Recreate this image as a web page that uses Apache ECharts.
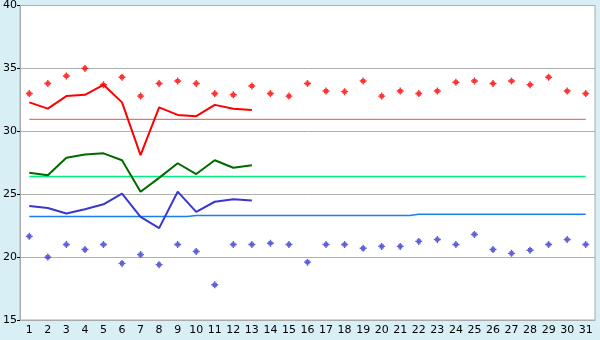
<!DOCTYPE html>
<html>
<head>
<meta charset="utf-8">
<script src="https://cdn.jsdelivr.net/npm/echarts@6/dist/echarts.min.js"></script>
<style>
html,body{margin:0;padding:0;background:#d9eff6;}
#c{width:600px;height:340px;}
</style>
</head>
<body>
<div id="c"></div>
<script>
var days = ['1','2','3','4','5','6','7','8','9','10','11','12','13','14','15','16','17','18','19','20','21','22','23','24','25','26','27','28','29','30','31'];
var yTicks = [15, 20, 25, 30, 35, 40];

var redPoints = [33.0,33.8,34.4,35.0,33.7,34.3,32.8,33.8,34.0,33.8,33.0,32.9,33.6,33.0,32.8,33.8,33.2,33.15,34.0,32.8,33.2,33.0,33.2,33.9,34.0,33.8,34.0,33.7,34.3,33.2,33.0];
var redLine = [32.3,31.8,32.8,32.9,33.7,32.3,28.1,31.9,31.3,31.2,32.1,31.8,31.7];
var redAvg = [30.95,30.95,30.95,30.95,30.95,30.95,30.95,30.95,30.95,30.95,30.95,30.95,30.95,30.95,30.95,30.95,30.95,30.95,30.95,30.95,30.95,30.95,30.95,30.95,30.95,30.95,30.95,30.95,30.95,30.95,30.95];

var greenLine = [26.7,26.5,27.9,28.15,28.25,27.7,25.2,26.3,27.46,26.6,27.7,27.1,27.3];
var greenAvg = [26.4,26.4,26.4,26.4,26.4,26.4,26.4,26.4,26.4,26.4,26.4,26.4,26.4,26.4,26.4,26.4,26.4,26.4,26.4,26.4,26.4,26.4,26.4,26.4,26.4,26.4,26.4,26.4,26.4,26.4,26.4];

var bluePoints = [21.65,20.0,21.0,20.6,21.0,19.5,20.2,19.4,21.0,20.45,17.8,21.0,21.0,21.1,21.0,19.6,21.0,21.0,20.7,20.85,20.85,21.25,21.4,21.0,21.8,20.6,20.3,20.55,21.0,21.4,21.0];
var blueLine = [24.07,23.9,23.47,23.8,24.2,25.05,23.2,22.3,25.2,23.6,24.4,24.6,24.5];
var blueAvg = [23.23,23.23,23.23,23.23,23.23,23.23,23.23,23.23,23.23,23.3,23.3,23.3,23.3,23.3,23.3,23.3,23.3,23.3,23.3,23.3,23.3,23.4,23.4,23.4,23.4,23.4,23.4,23.4,23.4,23.4,23.4];

var plusSym = 'path://M2,0H3V1H4V2H5V3H4V4H3V5H2V4H1V3H0V2H1V1H2Z';

var chart = echarts.init(document.getElementById('c'), null, {renderer:'canvas'});
chart.setOption({
  backgroundColor: '#d9eff6',
  animation: false,
  textStyle: {fontFamily: 'DejaVu Sans'},
  grid: {left: 20, right: 5, top: 5, bottom: 20, show: true, backgroundColor: '#ffffff', borderColor: '#aaaaaa', borderWidth: 1},
  xAxis: {
    type: 'category', data: days, boundaryGap: true,
    axisLine: {lineStyle: {color: '#aaaaaa'}},
    axisTick: {alignWithLabel: true, length: 4, lineStyle: {color: '#000'}},
    axisLabel: {color: '#000', fontSize: 11, margin: 5, interval: 0, fontFamily: 'DejaVu Sans'},
    splitLine: {show: false}
  },
  yAxis: {
    type: 'value', min: yTicks[0], max: yTicks[yTicks.length-1], interval: 5,
    axisLine: {show: true, lineStyle: {color: '#aaaaaa'}},
    axisTick: {show: true, length: 3, lineStyle: {color: '#000'}},
    axisLabel: {color: '#000', fontSize: 11, margin: 3, fontFamily: 'DejaVu Sans'},
    splitLine: {lineStyle: {color: '#b0b0b0', width: 1}}
  },
  series: [
    {type: 'line', data: redAvg, symbol: 'none', lineStyle: {color: '#ee7070', width: 1.3}, z: 1},
    {type: 'line', data: greenAvg, symbol: 'none', lineStyle: {color: '#00f080', width: 1.5}, z: 1},
    {type: 'line', data: blueAvg, symbol: 'none', step: 'middle', lineStyle: {color: '#1a7ff0', width: 1.5}, z: 1},
    {type: 'line', data: redLine, symbol: 'none', lineStyle: {color: '#ff0000', width: 2}, z: 2},
    {type: 'line', data: greenLine, symbol: 'none', lineStyle: {color: '#006a00', width: 2}, z: 2},
    {type: 'line', data: blueLine, symbol: 'none', lineStyle: {color: '#3838d0', width: 2}, z: 2},
    {type: 'scatter', data: redPoints, symbol: plusSym, symbolSize: 7, itemStyle: {color: '#ff0000'}, z: 3},
    {type: 'scatter', data: bluePoints, symbol: plusSym, symbolSize: 7, itemStyle: {color: '#3838d0'}, z: 3}
  ]
});
</script>
</body>
</html>
